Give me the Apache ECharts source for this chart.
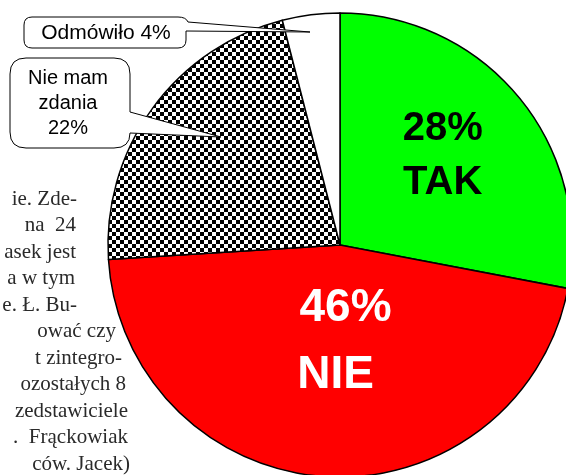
<!DOCTYPE html>
<html>
<head>
<meta charset="utf-8">
<script src="https://cdn.jsdelivr.net/npm/echarts@6/dist/echarts.min.js"></script>
<style>
  html, body { margin: 0; padding: 0; background: #fff; }
  #chart { width: 566px; height: 475px; }
</style>
</head>
<body>
<div id="chart"></div>
<script>
// dane sondażu
var categories = ['TAK', 'NIE', 'Nie mam zdania', 'Odmówiło'];
var values = [28, 46, 22, 4];
var colors = ['#00ff00', '#ff0000', null, '#ffffff'];

// tekst artykułu obok wykresu (ucięty)
var columnLines = ['ie. Zde-', 'na  24', 'asek jest', 'a w tym', 'e. Ł. Bu-', 'ować czy',
  't zintegro-', 'ozostałych 8', 'zedstawiciele', '.  Frąckowiak', 'ców. Jacek)'];
var columnRight = [77, 76, 76, 75, 77, 116, 122, 126, 128, 128, 130];

// wzór szachownicy dla "Nie mam zdania"
var checker = document.createElement('canvas');
checker.width = 8;
checker.height = 8;
var ctx = checker.getContext('2d');
ctx.fillStyle = '#fff';
ctx.fillRect(0, 0, 8, 8);
ctx.fillStyle = '#000';
ctx.fillRect(0, 0, 4, 4);
ctx.fillRect(4, 4, 4, 4);

// kształty dymków
echarts.graphic.registerShape('bubbleA', echarts.graphic.extendPath(
  'M32 17 L178 17 Q186 17 188 22 L310 32 L186 31 L186 40 Q186 48 178 48 L32 48 Q24 48 24 40 L24 25 Q24 17 32 17 Z', {}));
echarts.graphic.registerShape('bubbleB', echarts.graphic.extendPath(
  'M26 58 L114 58 Q130 58 130 74 L130 112 L221 137 L130 133 Q130 148 114 148 L26 148 Q10 148 10 132 L10 74 Q10 58 26 58 Z', {}));

var seriesData = categories.map(function (name, i) {
  return {
    name: name,
    value: values[i],
    itemStyle: { color: colors[i] || { image: checker, repeat: 'repeat' } },
    label: { show: false }
  };
});
// duże etykiety w środku
seriesData[0].label = {
  show: true,
  position: 'inside',
  offset: [11, -13],
  formatter: '{p|{c}%}\n{n|{b}}',
  rich: {
    p: { fontSize: 40, fontWeight: 'bold', color: '#000', lineHeight: 54, fontFamily: 'Liberation Sans' },
    n: { fontSize: 40, fontWeight: 'bold', color: '#000', lineHeight: 54, fontFamily: 'Liberation Sans' }
  }
};
seriesData[1].label = {
  show: true,
  position: 'inside',
  offset: [3, -22],
  formatter: '{p|{c}%}\n{n|{b}}',
  rich: {
    p: { fontSize: 46, fontWeight: 'bold', color: '#fff', lineHeight: 67, padding: [0, 0, 0, 20], fontFamily: 'Liberation Sans' },
    n: { fontSize: 46, fontWeight: 'bold', color: '#fff', lineHeight: 67, fontFamily: 'Liberation Sans' }
  }
};

var graphics = [];
columnLines.forEach(function (t, i) {
  graphics.push({
    type: 'text',
    x: columnRight[i],
    y: 199 + i * 26.5,
    style: {
      text: t, fill: '#2a2a2a', font: '21px "Liberation Serif"',
      textAlign: 'right', textVerticalAlign: 'middle'
    }
  });
});
// dymek "Odmówiło"
graphics.push({
  type: 'bubbleA',
  style: { fill: '#fff', stroke: '#000', lineWidth: 1 },
  z: 10
});
graphics.push({
  type: 'text', x: 106, y: 33, z: 11,
  style: {
    text: categories[3] + ' ' + values[3] + '%', fill: '#000',
    font: '21px "Liberation Sans"', textAlign: 'center', textVerticalAlign: 'middle'
  }
});
// dymek "Nie mam zdania"
graphics.push({
  type: 'bubbleB',
  style: { fill: '#fff', stroke: '#000', lineWidth: 1 },
  z: 10
});
graphics.push({
  type: 'text', x: 68, y: 103, z: 11,
  style: {
    text: 'Nie mam\nzdania\n' + values[2] + '%', fill: '#000', lineHeight: 25,
    font: '20px "Liberation Sans"', textAlign: 'center', textVerticalAlign: 'middle'
  }
});

var myChart = echarts.init(document.getElementById('chart'));
myChart.setOption({
  backgroundColor: '#fff',
  animation: false,
  series: [{
    type: 'pie',
    center: [340, 245],
    radius: 232,
    startAngle: 90,
    clockwise: true,
    labelLine: { show: false },
    itemStyle: { borderColor: '#000', borderWidth: 1.5 },
    emphasis: { disabled: true },
    data: seriesData
  }],
  graphic: graphics
});
</script>
</body>
</html>
